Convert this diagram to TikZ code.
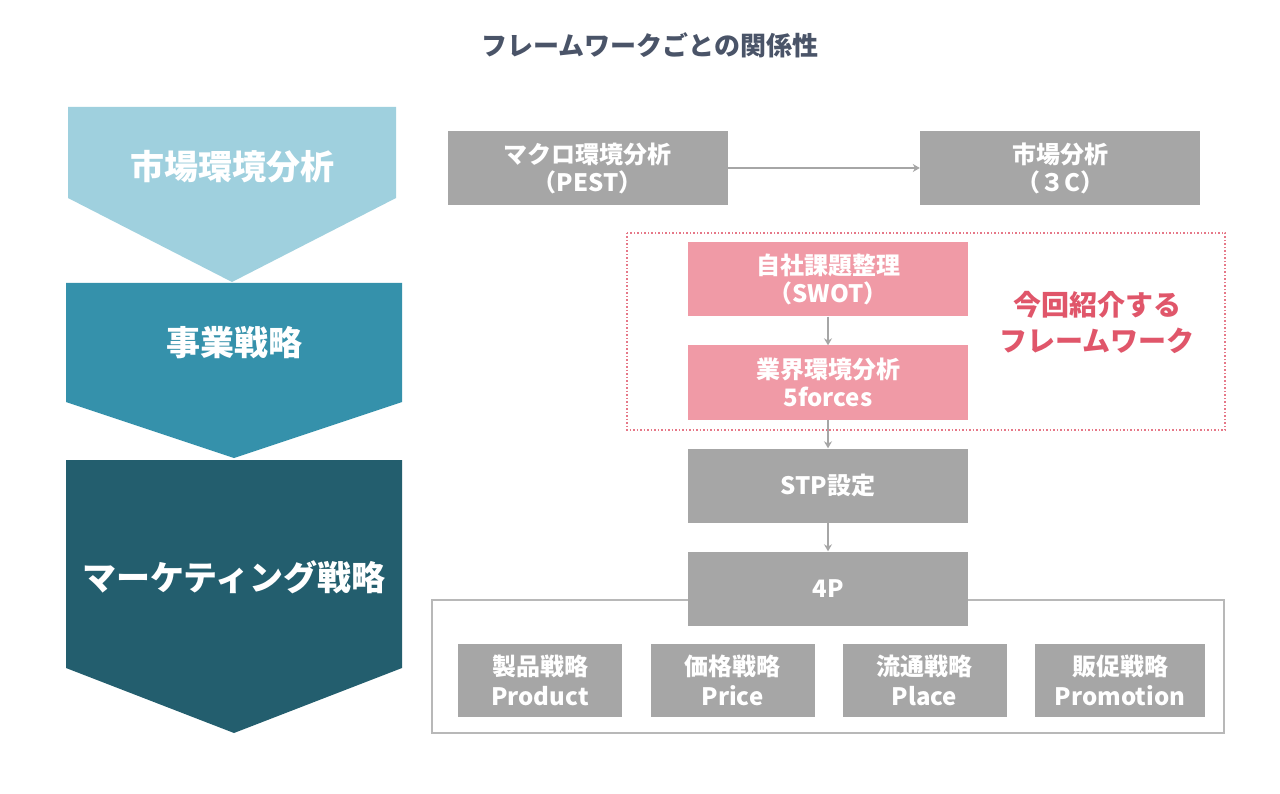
\documentclass[tikz,border=0pt]{standalone}
\usepackage{fontspec}
\usetikzlibrary{arrows.meta}
\setmainfont{Noto Sans CJK JP}
\definecolor{gbox}{HTML}{A6A6A6}
\definecolor{pbox}{HTML}{F09AA6}
\definecolor{pink}{HTML}{E0566A}
\definecolor{c1}{HTML}{9FD0DE}
\definecolor{c2}{HTML}{3591AB}
\definecolor{c3}{HTML}{235E6E}
\definecolor{ttl}{HTML}{4A5468}
\begin{document}
\begin{tikzpicture}[x=1pt,y=-1pt,
  bx/.style={fill=gbox,draw=none,minimum width=280pt,minimum height=74pt,text=white,font=\fontsize{24}{28}\selectfont\bfseries,align=center,inner sep=0pt},
  pk/.style={bx,fill=pbox},
  sm/.style={fill=gbox,minimum width=164pt,minimum height=73pt,text=white,font=\fontsize{24}{30}\selectfont\bfseries,align=center,inner sep=0pt},
  ar/.style={draw=gbox,line width=1.5pt,-{Stealth[length=7pt,width=8pt]}},
  chv/.style={text=white,font=\fontsize{34}{40}\selectfont\bfseries}]
\useasboundingbox (0,0) rectangle (1280,794);
\fill[white] (0,0) rectangle (1280,794);
\node[text=ttl,font=\fontsize{26}{30}\selectfont\bfseries] (title) at (650,45) {フレームワークごとの関係性};
\fill[c1] (68,107)--(396,107)--(396,198)--(232,282)--(68,198)--cycle;
\fill[c2] (66,283)--(402,283)--(402,402)--(234,458)--(66,402)--cycle;
\fill[c3] (66,460)--(402,460)--(402,668)--(234,733)--(66,668)--cycle;
\node[chv] (l1) at (232,167) {市場環境分析};
\node[chv] (l2) at (234,343) {事業戦略};
\node[chv] (l3) at (234,577) {マーケティング戦略};
\draw[pink!80,line width=1.5pt,dotted] (627,233) rectangle (1225,430);
\draw[gbox!80,line width=1.5pt] (432,600) rectangle (1224,733);
\node[bx] (pest) at (587.5,168) {マクロ環境分析\\（PEST）};
\node[bx] (mkt) at (1060,168) {市場分析\\（３C）};
\node[pk] (swot) at (828,279.5) {自社課題整理\\（SWOT）};
\node[pk] (five) at (828,382.5) {業界環境分析\\5forces};
\node[bx] (stp) at (828,485.5) {STP設定};
\node[bx] (fp) at (828,588.5) {4P};
\node[text=pink,font=\fontsize{28}{36}\selectfont\bfseries,align=center] (lbl) at (1097,322) {今回紹介する\\フレームワーク};
\node[sm] (p1) at (540,680.5) {製品戦略\\Product};
\node[sm] (p2) at (732.5,680.5) {価格戦略\\Price};
\node[sm] (p3) at (924.5,680.5) {流通戦略\\Place};
\node[sm,minimum width=170pt] (p4) at (1120,680.5) {販促戦略\\Promotion};
\draw[ar] (pest) -- (mkt);
\draw[ar] (swot) -- (five);
\draw[ar] (five) -- (stp);
\draw[ar] (stp) -- (fp);
\end{tikzpicture}
\end{document}
